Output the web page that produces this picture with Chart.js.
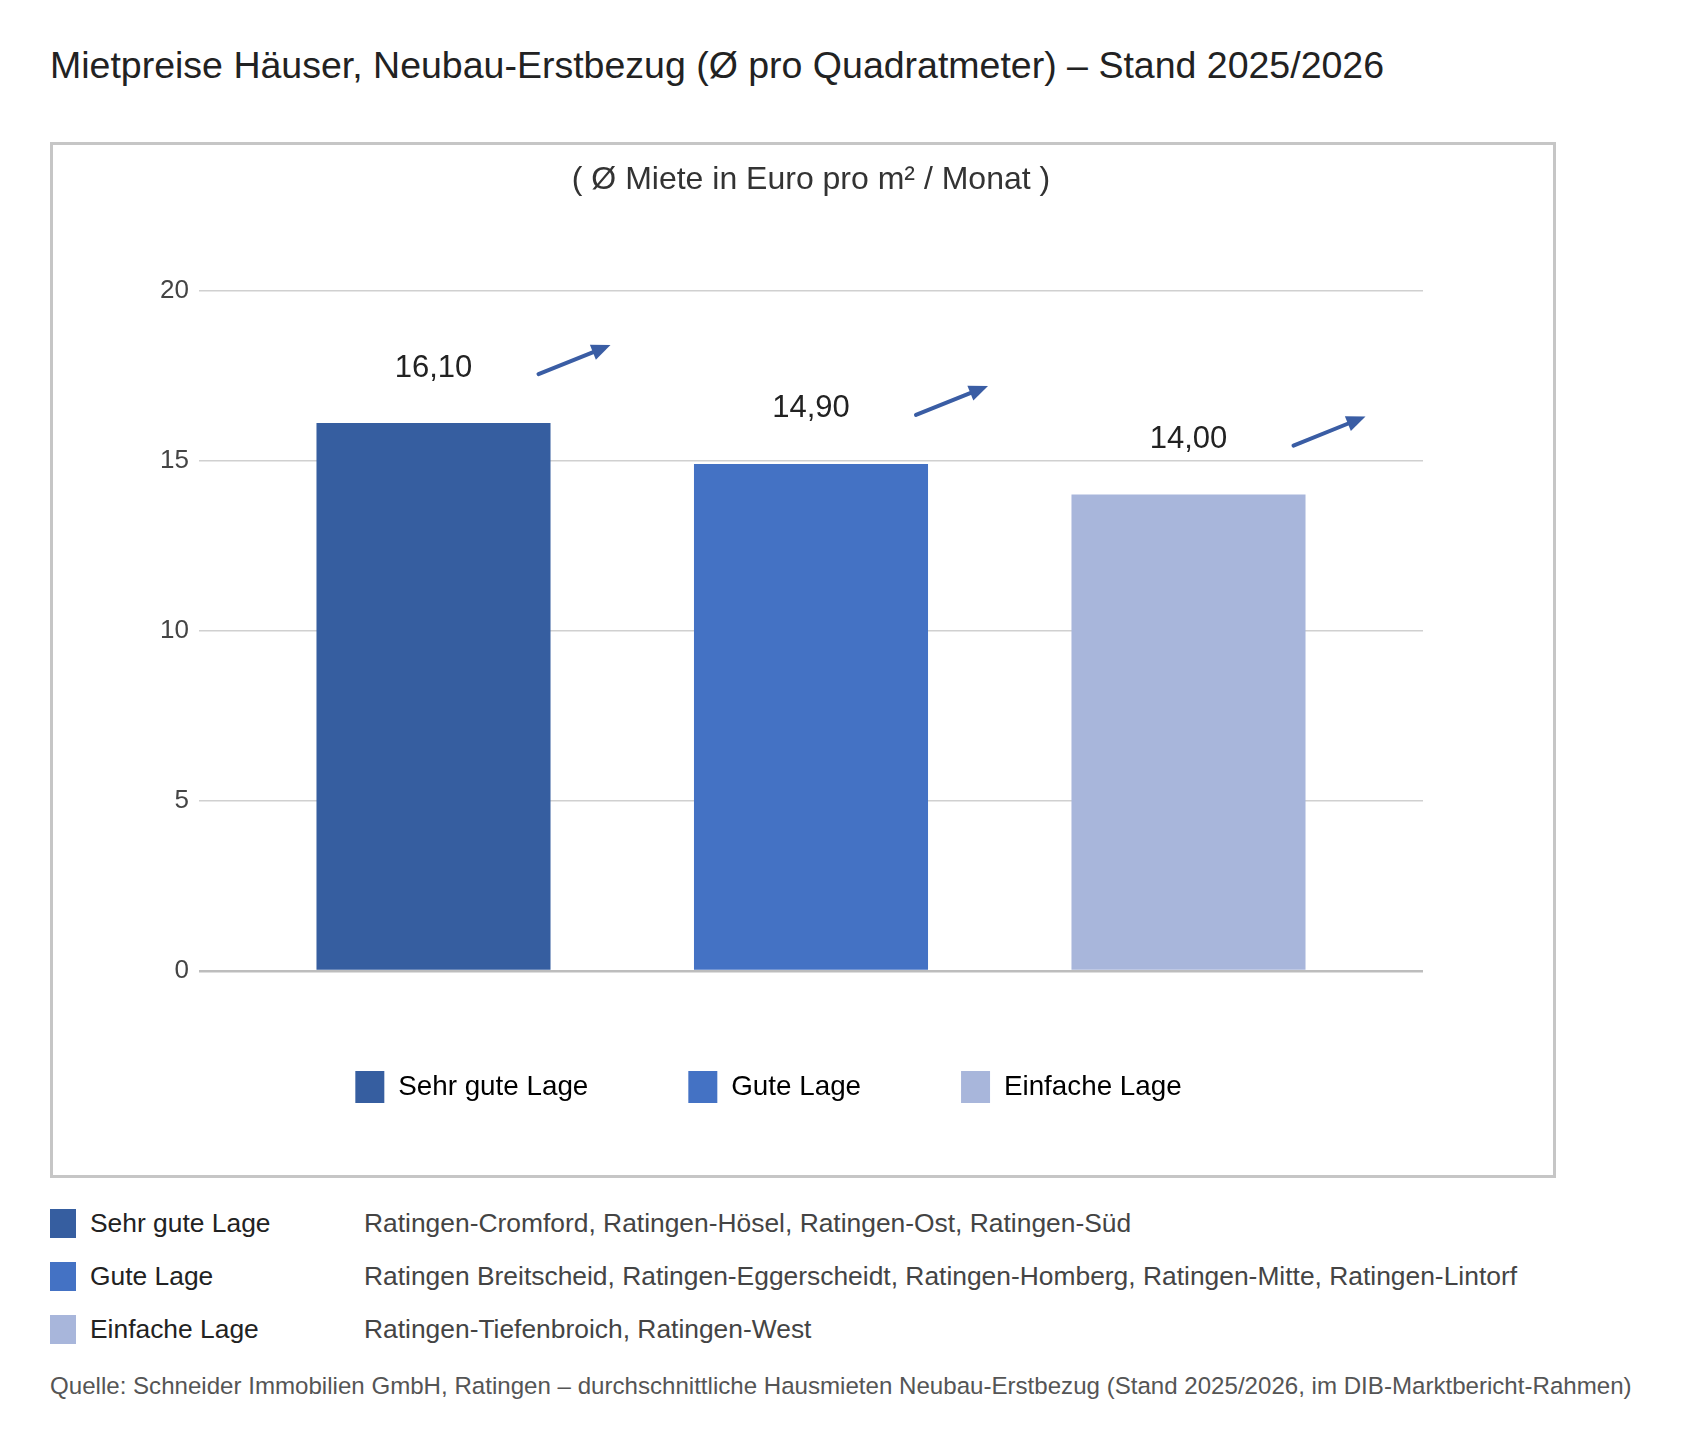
<!DOCTYPE html>
<html lang="de">
<head>
<meta charset="utf-8">
<title>Mietpreise Häuser Neubau-Erstbezug</title>
<script src="https://cdn.jsdelivr.net/npm/chart.js@4.4.1/dist/chart.umd.min.js"></script>
<style>
  body {
    margin: 0;
    background: #fff;
    font-family: 'Liberation Sans', Arial, sans-serif;
    width: 1683px;
    height: 1449px;
    position: relative;
    overflow: hidden;
  }
  #title {
    position: absolute;
    left: 50px;
    top: 45px;
    font-size: 37.5px;
    line-height: 40px;
    color: #222;
    white-space: nowrap;
  }
  #frame {
    position: absolute;
    left: 50px;
    top: 142px;
    width: 1500px;
    height: 1030px;
    border: 3px solid #c6c6c6;
  }
  #chart-wrap {
    position: absolute;
    left: 53px;
    top: 145px;
    width: 1500px;
    height: 968px;
  }
  .row {
    position: absolute;
    left: 50px;
    height: 30px;
    display: flex;
    align-items: center;
    font-size: 26.4px;
    white-space: nowrap;
  }
  .row .swatch { width: 26px; height: 29px; }
  .row .name { position: absolute; left: 40px; color: #222; }
  .row .areas { position: absolute; left: 314px; color: #444; }
  #source {
    position: absolute;
    left: 50px;
    top: 1372px;
    font-size: 24.1px;
    line-height: 28px;
    color: #555;
    white-space: nowrap;
  }
</style>
</head>
<body>
<div id="title">Mietpreise Häuser, Neubau-Erstbezug (Ø pro Quadratmeter) – Stand 2025/2026</div>
<div id="frame"></div>
<div id="chart-wrap"><canvas id="chart" width="1500" height="968"></canvas></div>
<div id="rows"></div>
<div id="source">Quelle: Schneider Immobilien GmbH, Ratingen – durchschnittliche Hausmieten Neubau-Erstbezug (Stand 2025/2026, im DIB-Marktbericht-Rahmen)</div>

<script>
const categories = ['Sehr gute Lage', 'Gute Lage', 'Einfache Lage']
const rents = [16.10, 14.90, 14.00]
const colors = ['#365ea0', '#4472c4', '#a8b6db']
const districts = [
  'Ratingen-Cromford, Ratingen-Hösel, Ratingen-Ost, Ratingen-Süd',
  'Ratingen Breitscheid, Ratingen-Eggerscheidt, Ratingen-Homberg, Ratingen-Mitte, Ratingen-Lintorf',
  'Ratingen-Tiefenbroich, Ratingen-West'
]
const yTicks = [0, 5, 10, 15, 20]

// rows under the chart
const rowTops = [1208, 1261, 1314]
categories.forEach((category, i) => {
  const row = document.createElement('div')
  row.className = 'row'
  row.style.top = rowTops[i] + 'px'
  row.innerHTML = `<div class="swatch" style="background:${colors[i]}"></div>` +
    `<span class="name">${category}</span><span class="areas">${districts[i]}</span>`
  document.getElementById('rows').appendChild(row)
})

const formatValue = (value) => value.toFixed(2).replace('.', ',')

// value label + trend arrow over each bar
const labelsAndArrows = {
  id: 'labelsAndArrows',
  afterDatasetsDraw(chart) {
    const ctx = chart.ctx
    const meta = chart.getDatasetMeta(0)
    meta.data.forEach((bar, i) => {
      const x = bar.x
      const y = bar.y - 55
      ctx.save()
      ctx.font = '31px "Liberation Sans", Arial, sans-serif'
      ctx.fillStyle = '#222'
      ctx.textAlign = 'center'
      ctx.textBaseline = 'middle'
      ctx.fillText(formatValue(rents[i]), x, y)

      const x1 = x + 105, y1 = y + 6
      const x2 = x + 177, y2 = y - 23
      const angle = Math.atan2(y2 - y1, x2 - x1)
      const head = 19
      ctx.strokeStyle = '#3a5da4'
      ctx.fillStyle = '#3a5da4'
      ctx.lineWidth = 4
      ctx.lineCap = 'round'
      ctx.beginPath()
      ctx.moveTo(x1, y1)
      ctx.lineTo(x2 - head * 0.8 * Math.cos(angle), y2 - head * 0.8 * Math.sin(angle))
      ctx.stroke()
      ctx.beginPath()
      ctx.moveTo(x2, y2)
      ctx.lineTo(x2 - head * Math.cos(angle) + 8 * Math.sin(angle), y2 - head * Math.sin(angle) - 8 * Math.cos(angle))
      ctx.lineTo(x2 - head * Math.cos(angle) - 8 * Math.sin(angle), y2 - head * Math.sin(angle) + 8 * Math.cos(angle))
      ctx.closePath()
      ctx.fill()
      ctx.restore()
    })
  }
}

new Chart(document.getElementById('chart'), {
  type: 'bar',
  data: {
    datasets: [{
      label: 'Miete',
      data: rents.map((value, i) => ({ x: i, y: value })),
      backgroundColor: colors,
      borderWidth: 0,
      barPercentage: 0.62,
      categoryPercentage: 1
    }]
  },
  options: {
    responsive: false,
    animation: false,
    layout: { padding: { left: 61, right: 130, top: 0, bottom: 0 } },
    scales: {
      x: {
        type: 'linear',
        display: false,
        offset: false,
        min: -0.6212,
        max: 2.6212,
        afterBuildTicks: (scale) => { scale.ticks = categories.map((c, i) => ({ value: i })) }
      },
      y: {
        min: 0,
        max: 20,
        afterFit: (scale) => { scale.width = 85 },
        afterBuildTicks: (scale) => { scale.ticks = yTicks.map((v) => ({ value: v })) },
        border: { display: false },
        grid: {
          drawTicks: false,
          color: (c) => c.tick && c.tick.value === 0 ? '#bdbdbd' : '#d0d0d0',
          lineWidth: (c) => c.tick && c.tick.value === 0 ? 2.5 : 1.5
        },
        ticks: {
          padding: 10,
          color: '#444',
          font: { family: '"Liberation Sans", Arial, sans-serif', size: 26 }
        }
      }
    },
    plugins: {
      title: {
        display: true,
        text: '( Ø Miete in Euro pro m² / Monat )',
        fullSize: false,
        color: '#333',
        font: { family: '"Liberation Sans", Arial, sans-serif', size: 32, weight: 'normal' },
        padding: { top: 16, bottom: 91 }
      },
      legend: {
        position: 'bottom',
        labels: {
          boxWidth: 29,
          boxHeight: 32,
          padding: 100,
          color: '#222',
          font: { family: '"Liberation Sans", Arial, sans-serif', size: 27.8 },
          generateLabels: () => categories.map((category, i) => ({
            text: category,
            fillStyle: colors[i],
            strokeStyle: colors[i],
            lineWidth: 0,
            index: i
          }))
        }
      },
      tooltip: { enabled: false }
    }
  },
  plugins: [labelsAndArrows]
})
</script>
</body>
</html>
